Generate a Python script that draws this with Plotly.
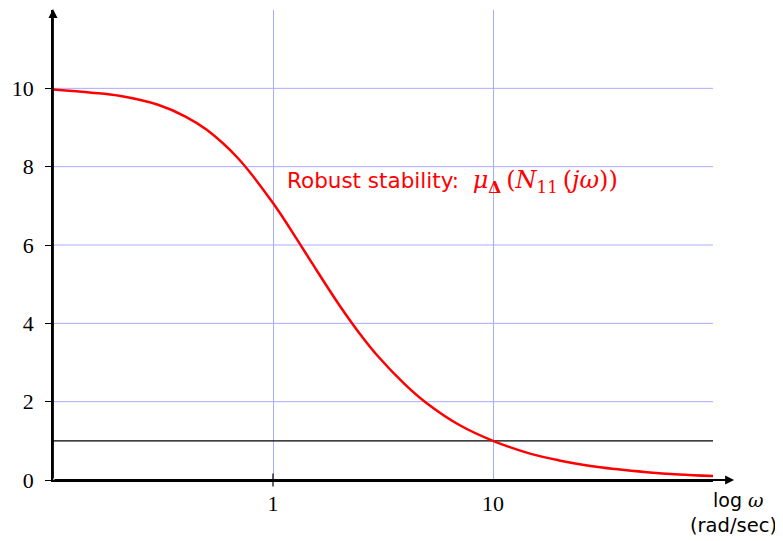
import math
import plotly.graph_objects as go

# Data
omega = [0.1, 0.15, 0.2, 0.3, 0.4, 0.5, 0.7, 1.0, 1.3, 1.5, 2.0, 2.5, 3.0, 4.0, 5.0, 7.0, 10.0, 15.0, 20.0, 30.0, 50.0, 70.0, 100.0]
mu = [9.97, 9.89, 9.81, 9.58, 9.28, 8.94, 8.19, 7.07, 6.10, 5.55, 4.47, 3.71, 3.16, 2.43, 1.96, 1.41, 1.00, 0.66, 0.50, 0.33, 0.20, 0.14, 0.10]
ref_level = 1.0
x_ticks = [1, 10]
x_tick_labels = ["1", "10"]
y_ticks = [0, 2, 4, 6, 8, 10]
y_tick_labels = ["0", "2", "4", "6", "8", "10"]
grid_y = [2, 4, 6, 8, 10]
label_omega = 1.13
label_mu = 7.63

RED = "#ff0000"
GRID = "#aaaaff"
SERIF = "Liberation Serif, DejaVu Serif, serif"
MATH = "DejaVu Serif, Liberation Serif, serif"
SANS = "DejaVu Sans, Noto Sans, sans-serif"

fig = go.Figure()

# reference line at mu = 1
fig.add_trace(go.Scatter(x=[omega[0], omega[-1]], y=[ref_level, ref_level], mode="lines",
                         line=dict(color="black", width=1.2), hoverinfo="skip", showlegend=False))
# robust stability curve
fig.add_trace(go.Scatter(x=omega, y=mu, mode="lines", line=dict(color=RED, width=2.5, shape="spline"),
                         showlegend=False, cliponaxis=False))

shapes = []
# blue grid line at y=0 on top of axis
shapes.append(dict(type="line", xref="paper", yref="y", x0=0, x1=1, y0=0, y1=0,
                   line=dict(color="#7777ee", width=1.5), layer="above"))
# crossing x ticks
for t in x_ticks:
    shapes.append(dict(type="line", xref="x", yref="paper", x0=math.log10(t), x1=math.log10(t),
                       y0=-0.014, y1=0.014, line=dict(color="black", width=1.2), layer="above"))

annotations = []
# axis arrows
annotations.append(dict(xref="paper", yref="paper", x=1.032, y=0, ax=-681, ay=0,
                        showarrow=True, arrowhead=2, arrowsize=1,
                        arrowwidth=1.8, arrowcolor="black", text=""))
annotations.append(dict(xref="paper", yref="paper", x=0, y=1.002, ax=0, ay=471,
                        showarrow=True, arrowhead=2, arrowsize=1,
                        arrowwidth=1.8, arrowcolor="black", text=""))
# x-axis label
annotations.append(dict(xref="paper", yref="paper", x=1.039, y=-0.042, showarrow=False,
                        text="log <span style='font-family:" + MATH + "'><i>ω</i></span>",
                        font=dict(family=SANS, size=19, color="black"), xanchor="center", yanchor="middle"))
annotations.append(dict(xref="paper", yref="paper", x=1.031, y=-0.096, showarrow=False,
                        text="(rad/sec)", font=dict(family=SANS, size=19.5, color="black"),
                        xanchor="center", yanchor="middle"))
# curve label
math_txt = ("<span style='font-family:" + MATH + ";font-size:24px'><i>μ</i><sub><b>Δ</b></sub>\u2009(<i>N</i><sub>11</sub>\u2009(<i>j</i><i>ω</i>))</span>")
annotations.append(dict(xref="x", yref="y", x=math.log10(label_omega), y=label_mu, showarrow=False,
                        xanchor="left", yanchor="middle",
                        text="Robust stability:  " + math_txt,
                        font=dict(family=SANS, size=21.5, color=RED)))

# the page adds an 8px body margin, so the figure is sized/offset accordingly
fig.update_layout(
    width=775, height=533,
    margin=dict(l=45, r=70, t=2, b=61, autoexpand=False),
    plot_bgcolor="white", paper_bgcolor="white",
    shapes=shapes, annotations=annotations,
    xaxis=dict(type="log", range=[-1, 2], tickvals=x_ticks, ticktext=x_tick_labels,
               showgrid=True, gridcolor=GRID, gridwidth=1, zeroline=False,
               showline=True, linecolor="black", linewidth=1.8,
               ticks="", tickfont=dict(family=SERIF, size=22, color="black"),
               ticklabelstandoff=3),
    yaxis=dict(range=[0, 12], tickvals=y_ticks, ticktext=y_tick_labels,
               showgrid=False, zeroline=False,
               showline=True, linecolor="black", linewidth=1.8,
               ticks="outside", ticklen=6, tickcolor="black", tickwidth=1.2,
               tickfont=dict(family=SERIF, size=22, color="black"),
               ticklabelstandoff=7),
)
# horizontal grid lines as shapes (so only 2..10)
for g in grid_y:
    fig.add_shape(type="line", xref="paper", yref="y", x0=0, x1=1, y0=g, y1=g,
                  line=dict(color=GRID, width=1), layer="below")

fig.write_html("out.html")
